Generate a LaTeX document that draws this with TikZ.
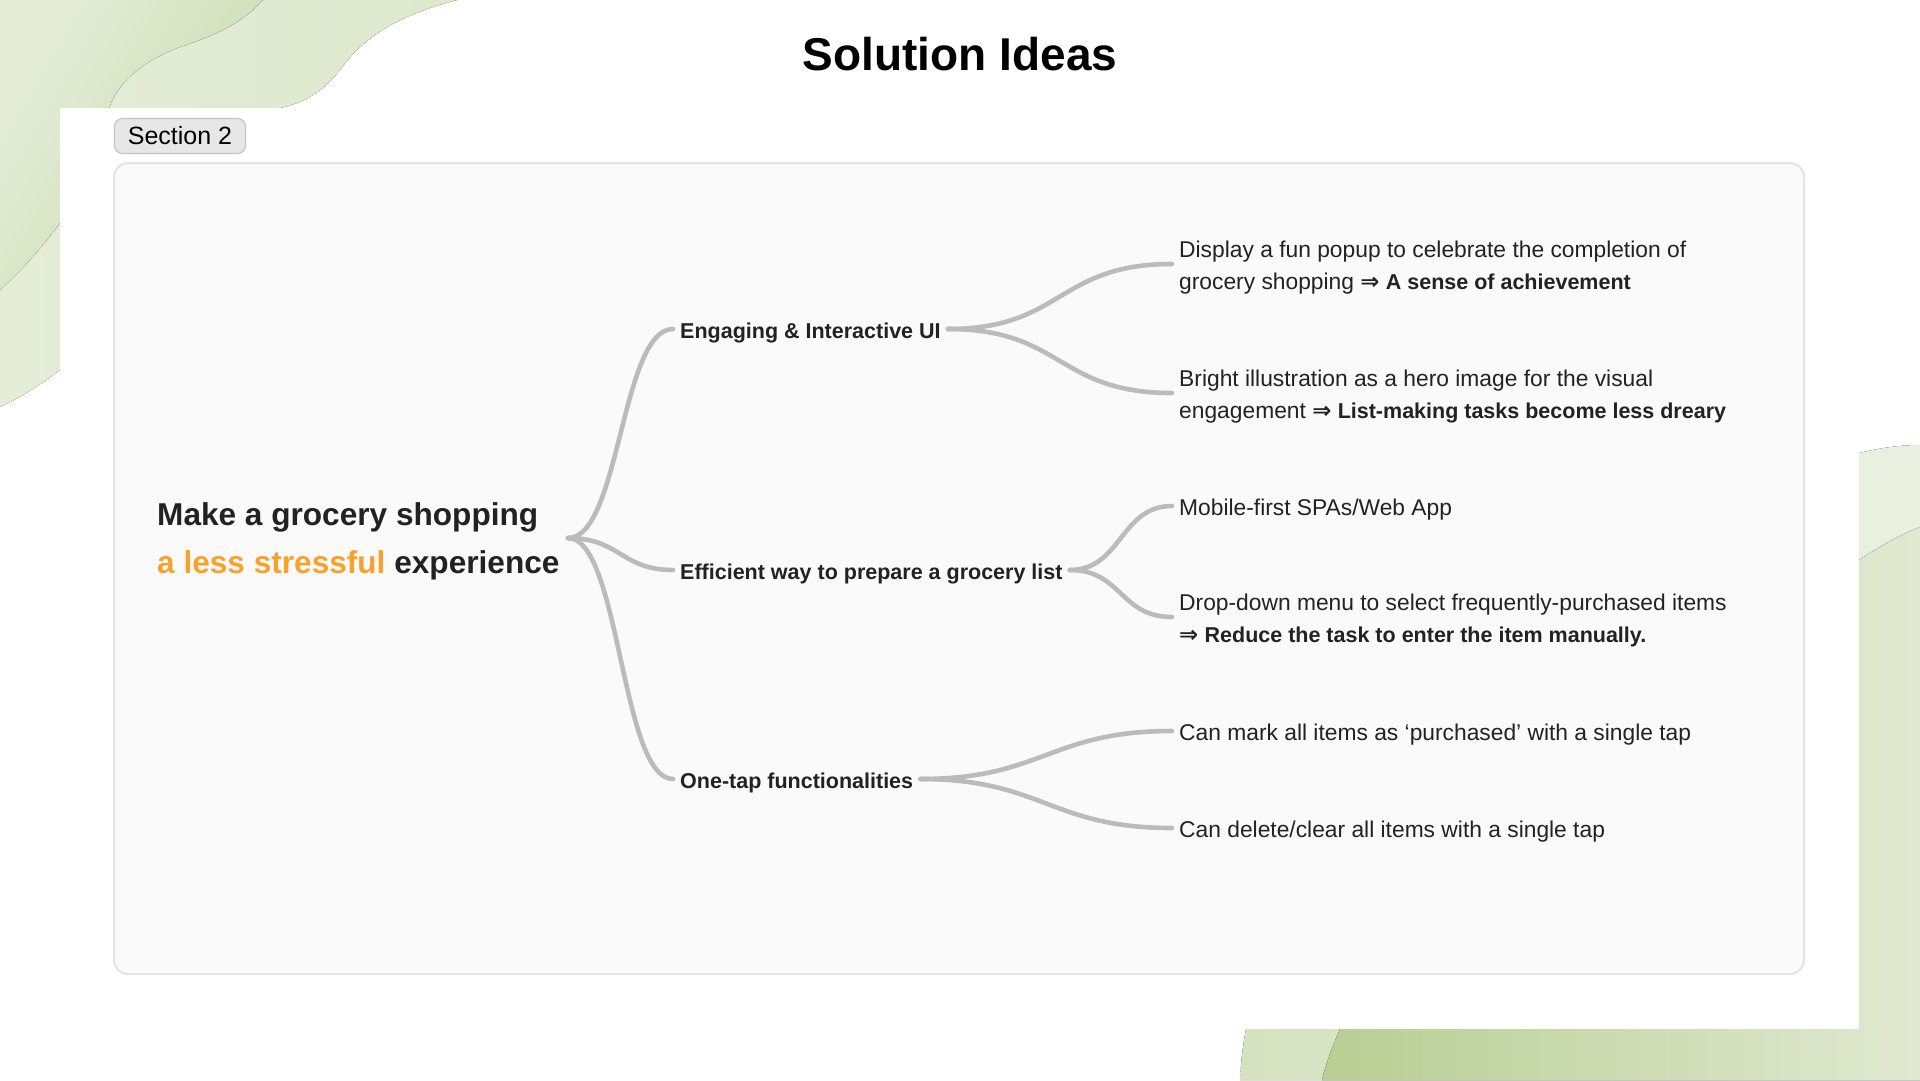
\documentclass[tikz,border=0pt]{standalone}
\usepackage{fontspec}
\setmainfont{Liberation Sans}
\newfontfamily\arrowfont{DejaVu Sans}
\usetikzlibrary{positioning}

\definecolor{inkdark}{HTML}{222222}
\definecolor{stress}{HTML}{F8A22C}
\definecolor{twig}{HTML}{BBBBBB}
\definecolor{panelfill}{HTML}{FAFAFA}
\definecolor{panelline}{HTML}{E4E4E4}
\definecolor{tabfill}{HTML}{E7E7E7}
\definecolor{tabline}{HTML}{C4C4C4}
\definecolor{wavepale}{HTML}{E5EDD9}
\definecolor{wavelight}{HTML}{DDE8CD}
\definecolor{wavemid}{HTML}{C9DAAC}
\definecolor{wavedeep}{HTML}{B8CE92}
\definecolor{waveband}{HTML}{D4E2BF}
\definecolor{wavefade}{HTML}{EBF1E2}
\definecolor{wavetail}{HTML}{E0E9D1}

\newcommand{\resultarrow}{{\arrowfont\bfseries ⇒}}
\newcommand{\punch}[1]{{\fontsize{21.5}{32}\selectfont\bfseries #1}}

\begin{document}
\begin{tikzpicture}[x=1pt, y=-1pt,
  branch/.style={line width=4.6pt, draw=twig, line cap=round},
  topic/.style={anchor=west, inner xsep=7pt, inner ysep=2pt, text=inkdark,
    font=\fontsize{21.5}{26}\selectfont\bfseries},
  idea/.style={anchor=west, inner xsep=7pt, inner ysep=2pt, text=inkdark,
    align=left, font=\fontsize{22.8}{32}\selectfont}]
  \useasboundingbox (0,0) rectangle (1920,1080);
  \fill[white] (0,0) rectangle (1920,1080);
  % green waves, top left corner
  \fill[left color=wavepale, right color=wavelight]
    (0,0) -- (457,0) .. controls (400,15) and (365,35) .. (340,70)
    .. controls (320,95) and (300,105) .. (270,110) -- (60,370)
    .. controls (40,385) and (20,398) .. (0,407) -- cycle;
  \fill[left color=wavepale, right color=wavemid, shading angle=60]
    (0,0) -- (263,0) .. controls (240,25) and (215,35) .. (180,47)
    .. controls (140,62) and (115,85) .. (108,112) -- (60,223)
    .. controls (40,250) and (20,272) .. (0,290) -- cycle;
  % green waves, bottom right corner
  \fill[left color=waveband, right color=wavefade]
    (1240,1080) .. controls (1241,1060) and (1243,1045) .. (1246,1029)
    -- (1859,453) .. controls (1880,448) and (1900,445) .. (1920,445)
    -- (1920,1080) -- cycle;
  \fill[left color=wavedeep, right color=wavetail]
    (1322,1080) .. controls (1327,1060) and (1333,1045) .. (1340,1029)
    -- (1859,560) .. controls (1880,546) and (1900,535) .. (1920,527)
    -- (1920,1080) -- cycle;
  % slide sheet and mind map panel
  \fill[white] (60,108) rectangle (1859,1029);
  \draw[panelline, line width=2pt, fill=panelfill, rounded corners=14pt]
    (114,163) rectangle (1804,974);
  \node[font=\fontsize{46}{46}\selectfont\bfseries] (title) at (960,54) {Solution Ideas};
  \node[draw=tabline, fill=tabfill, line width=1.2pt, rounded corners=8pt,
    minimum width=131pt, minimum height=35pt, inner sep=0pt,
    font=\fontsize{25}{25}\selectfont] (tab) at (180,136) {Section 2};
  % root
  \node[anchor=west, align=left, inner sep=0pt, text=inkdark,
    font=\fontsize{31.6}{48}\selectfont\bfseries] (goal) at (157,541.5)
    {Make a grocery shopping\\\textcolor{stress}{a less stressful} experience};
  \coordinate (hub) at (568,538);
  % first level (text sits 3.5pt below its connector)
  \node[topic] (engage)   at (673,332.5) {Engaging \& Interactive UI};
  \node[topic] (listprep) at (673,573.5) {Efficient way to prepare a grocery list};
  \node[topic] (onetap)   at (673,782.5) {One-tap functionalities};
  % second level
  \node[idea] (popup)    at (1172,267.5) {Display a fun popup to celebrate the completion of\\grocery shopping \resultarrow\ \punch{A sense of achievement}};
  \node[idea] (hero)     at (1172,396.5) {Bright illustration as a hero image for the visual\\engagement \resultarrow\ \punch{List-making tasks become less dreary}};
  \node[idea] (mobile)   at (1172,509.5) {Mobile-first SPAs/Web App};
  \node[idea] (dropdown) at (1172,620.5) {Drop-down menu to select frequently-purchased items\\\resultarrow\ \punch{Reduce the task to enter the item manually.}};
  \node[idea] (markall)  at (1172,734.5) {Can mark all items as ‘purchased’ with a single tap};
  \node[idea] (clearall) at (1172,831.5) {Can delete/clear all items with a single tap};
  % branches
  \foreach \t in {engage,listprep,onetap}
    \draw[branch] (hub) .. controls +(52,0) and +(-52,0) .. ([yshift=3.5pt]\t.west);
  \foreach \a/\b/\d in {engage/popup/115, engage/hero/115, listprep/mobile/52,
      listprep/dropdown/52, onetap/markall/122, onetap/clearall/122}
    \draw[branch] ([yshift=3.5pt]\a.east) .. controls +(\d,0) and +(-\d,0) .. ([yshift=3.5pt]\b.west);
\end{tikzpicture}
\end{document}
